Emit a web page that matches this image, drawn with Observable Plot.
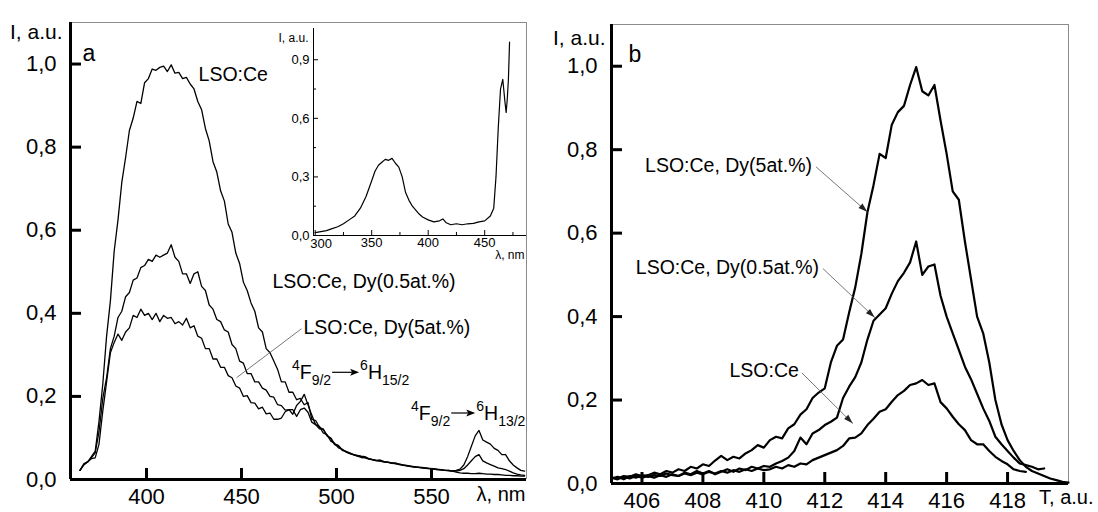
<!DOCTYPE html>
<html><head><meta charset="utf-8">
<script src="https://cdn.jsdelivr.net/npm/d3@7"></script>
<script src="https://cdn.jsdelivr.net/npm/@observablehq/plot@0.6"></script>
<style>
html,body{margin:0;padding:0;background:#fff;}
#wrap{position:relative;width:1098px;height:512px;overflow:hidden;}
#wrap svg{position:absolute;overflow:visible;}
</style></head><body><div id="wrap"></div>
<script>
// ---------- Panel a: luminescence spectra ----------
const wlA = [365,367,369,371,373,375,377,379,381,383,
385,387,389,391,393,395,397,399,401,403,
405,407,409,411,413,415,417,419,421,423,
425,427,429,431,433,435,437,439,441,443,
445,447,449,451,453,455,457,459,461,463,
465,467,469,471,473,475,477,479,481,483,
485,487,489,491,493,495,497,499,501,503,
505,507,509,511,513,515,517,519,521,523,
525,527,529,531,533,535,537,539,541,543,
545,547,549,551,553,555,557,559,561,563,
565,567,569,571,573,575,577,579,581,583,
585,587,589,591,593,595,597,599];
const ceA = [.022,.038,.042,.055,.068,.14,.23,.345,.43,.55,
.625,.715,.775,.84,.87,.91,.905,.955,.965,.988,
.985,.992,.995,.982,.998,.978,.98,.965,.968,.952,
.94,.91,.89,.845,.815,.765,.74,.695,.67,.615,
.595,.545,.52,.475,.455,.425,.405,.365,.355,.315,
.305,.285,.265,.235,.235,.21,.21,.192,.195,.18,
.185,.145,.142,.126,.12,.106,.1,.086,.082,.072,
.068,.064,.06,.058,.056,.055,.05,.048,.046,.047,
.043,.042,.04,.04,.037,.035,.034,.032,.031,.03,
.029,.028,.027,.026,.025,.024,.022,.022,.02,.018,
.016,.015,.015,.014,.014,.015,.014,.013,.013,.012,
.012,.011,.01,.01,.009,.009,.008,.008];
const dy05A = [.022,.036,.043,.052,.064,.115,.195,.245,.315,.345,
.39,.405,.44,.45,.48,.485,.51,.515,.53,.525,
.54,.535,.54,.545,.565,.535,.525,.495,.495,.472,
.495,.50,.465,.455,.42,.41,.385,.38,.36,.355,
.325,.315,.285,.28,.255,.255,.235,.235,.22,.215,
.2,.198,.18,.178,.167,.168,.157,.178,.188,.205,
.18,.155,.132,.128,.112,.108,.092,.087,.076,.073,
.066,.062,.059,.056,.053,.052,.049,.047,.045,.044,
.042,.041,.039,.038,.036,.034,.033,.031,.03,.029,
.028,.027,.026,.025,.024,.023,.022,.021,.02,.02,
.022,.026,.035,.045,.055,.06,.045,.04,.036,.032,
.028,.026,.024,.02,.016,.013,.011,.01];
const dy5A = [.022,.035,.042,.05,.052,.085,.165,.235,.305,.33,
.35,.335,.355,.365,.395,.39,.41,.395,.40,.385,
.40,.38,.395,.388,.39,.375,.38,.372,.388,.365,
.37,.345,.34,.315,.315,.29,.29,.27,.27,.25,
.245,.225,.22,.2,.202,.185,.184,.17,.174,.158,
.16,.145,.145,.148,.163,.168,.168,.152,.168,.172,
.162,.138,.132,.122,.122,.105,.098,.084,.08,.07,
.067,.063,.06,.057,.055,.053,.05,.048,.046,.045,
.043,.042,.04,.038,.037,.035,.033,.032,.03,.029,
.028,.027,.026,.025,.024,.023,.022,.022,.021,.022,
.025,.035,.055,.08,.105,.118,.095,.09,.085,.075,
.07,.06,.06,.045,.035,.028,.022,.02];
const xTicksA = [400,450,500,550];
const yTicks = [0,0.2,0.4,0.6,0.8,1.0];

// ---------- Inset: excitation spectrum ----------
const insX = [300,305,310,315,320,325,330,335,340,345,350,353,356,359,362,365,368,371,374,377,380,383,386,389,392,395,400,405,410,413,416,420,425,430,435,440,445,450,455,458,460,462,464,466,468,469,470,471,472];
const insY = [.015,.02,.025,.035,.045,.06,.08,.1,.14,.2,.28,.33,.36,.375,.39,.385,.395,.37,.35,.30,.22,.18,.15,.13,.11,.095,.08,.07,.075,.085,.065,.055,.06,.055,.06,.062,.07,.075,.1,.14,.3,.55,.75,.8,.68,.63,.7,.8,.99];
const insXTicks = [350,400,450];
const insXFirst = [300];
const insXMinor = [325,375,425,475];
const insYTicks = [0,0.3,0.6,0.9];
const insYMinor = [0.15,0.45,0.75];

// ---------- Panel b ----------
const tB = [405.0,405.2,405.4,405.6,405.8,406.0,406.2,406.4,406.6,406.8,
407.0,407.2,407.4,407.6,407.8,408.0,408.2,408.4,408.6,408.8,
409.0,409.2,409.4,409.6,409.8,410.0,410.2,410.4,410.6,410.8,
411.0,411.2,411.4,411.6,411.8,412.0,412.2,412.4,412.6,412.8,
413.0,413.2,413.4,413.6,413.8,414.0,414.2,414.4,414.6,414.8,
415.0,415.2,415.4,415.6,415.8,416.0,416.2,416.4,416.6,416.8,
417.0,417.2,417.4,417.6,417.8,418.0,418.2,418.4,418.6,418.8,
419.0,419.2,419.4,419.6,419.8,420.0];
const dy5B = [.014,.012,.018,.016,.022,.018,.02,.026,.022,.03,
.026,.034,.03,.04,.036,.046,.042,.055,.066,.056,
.064,.06,.072,.08,.092,.086,.104,.112,.108,.132,
.142,.165,.178,.205,.218,.228,.29,.33,.345,.41,
.47,.55,.65,.715,.79,.78,.86,.89,.905,.955,
.998,.94,.93,.955,.87,.79,.70,.68,.58,.49,
.40,.36,.29,.20,.142,.104,.078,.056,.04,.03,
.024,.018,.012,.008,.004,.002];
const dy05B = [.012,.016,.01,.018,.014,.02,.016,.02,.018,.024,
.02,.018,.026,.022,.03,.024,.03,.022,.028,.034,
.028,.036,.032,.04,.036,.042,.04,.048,.054,.062,
.078,.11,.094,.12,.128,.14,.148,.158,.205,.232,
.255,.29,.345,.39,.405,.42,.455,.485,.505,.53,
.58,.50,.52,.525,.45,.40,.36,.32,.28,.25,
.215,.18,.15,.112,.094,.078,.062,.048,.044,.04,
.034,.036,null,null,null,null];
const ceB = [.014,.01,.016,.012,.018,.014,.018,.014,.02,.016,
.022,.018,.024,.02,.026,.022,.028,.024,.03,.026,
.032,.028,.034,.03,.036,.032,.034,.04,.036,.044,
.04,.048,.046,.056,.062,.068,.074,.08,.09,.108,
.11,.12,.14,.155,.172,.178,.196,.212,.222,.236,
.24,.248,.236,.24,.195,.18,.16,.142,.128,.104,
.094,.094,.078,.064,.054,.046,.034,.03,.028,null,
null,null,null,null,null,null];
const xTicksB = [406,408,410,412,414,416,418];

// ---------- Annotations (data units) ----------
const labelsA = [
  {text: "LSO:Ce", x: 427.4, y: 0.975},
  {text: "LSO:Ce, Dy(0.5at.%)", x: 466.3, y: 0.475},
  {text: "LSO:Ce, Dy(5at.%)", x: 482.6, y: 0.365}
];
const leaderA = [{x1: 481.6, y1: 0.363, x2: 447.4, y2: 0.245}];
const transitions = [
  {x: 476.8, y: 0.240, a: ["4","F","9/2"], b: ["6","H","15/2"], len: 27},
  {x: 539.5, y: 0.142, a: ["4","F","9/2"], b: ["6","H","13/2"], len: 24}
];
const labelsB = [
  {text: "LSO:Ce, Dy(5at.%)", x: 411.58, y: 0.762},
  {text: "LSO:Ce, Dy(0.5at.%)", x: 411.81, y: 0.517},
  {text: "LSO:Ce", x: 411.15, y: 0.27}
];
const arrowsB = [
  {x1: 411.71, y1: 0.759, x2: 413.41, y2: 0.65},
  {x1: 411.94, y1: 0.515, x2: 413.65, y2: 0.397},
  {x1: 411.25, y1: 0.265, x2: 412.93, y2: 0.143}
];

const FONT = "'Liberation Sans', Arial, Helvetica, sans-serif";
const fmt = d => d.toFixed(1).replace(".", ",");
const wrap = document.getElementById("wrap");
const baseStyle = {fontFamily: FONT, color: "#000", background: "transparent", overflow: "visible"};

function axisMarks(xTicks, xDomain, lw, fs) {
  return [
    Plot.ruleX([xDomain[0]], {stroke: "#000", strokeWidth: lw}),
    Plot.ruleY([0], {stroke: "#000", strokeWidth: lw}),
    Plot.axisY(yTicks, {anchor: "left", tickSize: 11, dx: 11, strokeWidth: lw, tickFormat: () => "", label: null}),
    Plot.axisY(yTicks, {anchor: "left", tickSize: 0, tickPadding: 14, tickFormat: fmt, fontSize: fs, label: null}),
    Plot.axisX(xTicks, {anchor: "bottom", tickSize: 11, dy: -11, strokeWidth: lw, tickFormat: () => "", label: null}),
    Plot.axisX(xTicks, {anchor: "bottom", tickSize: 0, tickPadding: 9, tickFormat: d => String(d), fontSize: fs, label: null})
  ];
}

// Panel a
const pa = Plot.plot({
  width: 540, height: 512,
  marginLeft: 70, marginRight: 14, marginTop: 22, marginBottom: 33,
  x: {domain: [360, 600]},
  y: {domain: [0, 1.1]},
  style: baseStyle,
  marks: [
    Plot.ruleY([1.1], {stroke: "#8c8c8c", strokeWidth: 1}),
    Plot.ruleX([600], {stroke: "#8c8c8c", strokeWidth: 1}),
    Plot.lineY(ceA, {x: wlA, stroke: "#000", strokeWidth: 1.3}),
    Plot.lineY(dy05A, {x: wlA, stroke: "#000", strokeWidth: 1.3}),
    Plot.lineY(dy5A, {x: wlA, stroke: "#000", strokeWidth: 1.3}),
    Plot.link(leaderA, {x1: "x1", y1: "y1", x2: "x2", y2: "y2", stroke: "#555", strokeWidth: 0.8}),
    Plot.text(labelsA, {x: "x", y: "y", text: "text", textAnchor: "start", fontSize: 19.5}),
    ...axisMarks(xTicksA, [360, 600], 3, 22),
    Plot.text(["I, a.u."], {frameAnchor: "top-left", dx: -8, dy: 2, textAnchor: "end", fontSize: 21}),
    Plot.text(["a"], {frameAnchor: "top-left", dx: 12, dy: 22, textAnchor: "start", fontSize: 23}),
    Plot.text(["λ, nm"], {frameAnchor: "bottom-right", dx: -1, dy: 21, textAnchor: "end", fontSize: 20})
  ]
});
pa.style.left = "0px"; pa.style.top = "0px";
wrap.append(pa);

// Inset
const pi = Plot.plot({
  width: 272, height: 263,
  marginLeft: 55, marginRight: 4, marginTop: 16, marginBottom: 40,
  x: {domain: [298.5, 487]},
  y: {domain: [0, 1.06]},
  style: baseStyle,
  marks: [
    Plot.lineY(insY, {x: insX, stroke: "#000", strokeWidth: 1.2}),
    Plot.ruleX([298.5], {stroke: "#000", strokeWidth: 1}),
    Plot.ruleY([0], {stroke: "#000", strokeWidth: 1}),
    Plot.axisY(insYTicks, {anchor: "left", tickSize: 5, dx: 5, tickFormat: () => "", label: null}),
    Plot.axisY(insYMinor, {anchor: "left", tickSize: 3, dx: 3, tickFormat: () => "", label: null}),
    Plot.axisY(insYTicks, {anchor: "left", tickSize: 0, tickPadding: 4, tickFormat: fmt, fontSize: 13, label: null}),
    Plot.axisX(insXFirst.concat(insXTicks), {anchor: "bottom", tickSize: 5, dy: -5, tickFormat: () => "", label: null}),
    Plot.axisX(insXMinor, {anchor: "bottom", tickSize: 3, dy: -3, tickFormat: () => "", label: null}),
    Plot.axisX(insXTicks, {anchor: "bottom", tickSize: 0, tickPadding: 2, fontSize: 13, label: null}),
    Plot.axisX(insXFirst, {anchor: "bottom", tickSize: 0, tickPadding: 3, dx: 6, fontSize: 13, label: null}),
    Plot.text(["I, a.u."], {frameAnchor: "top-left", dx: -5, dy: 5, textAnchor: "end", fontSize: 12}),
    Plot.text(["λ, nm"], {frameAnchor: "bottom-right", dx: -2, dy: 23, textAnchor: "end", fontSize: 12})
  ]
});
pi.style.left = "258px"; pi.style.top = "12px";
wrap.append(pi);

// Panel b
const pb = Plot.plot({
  width: 558, height: 512,
  marginLeft: 71, marginRight: 30, marginTop: 24, marginBottom: 29,
  x: {domain: [405, 420]},
  y: {domain: [0, 1.1]},
  style: baseStyle,
  marks: [
    Plot.ruleY([1.1], {stroke: "#8c8c8c", strokeWidth: 1}),
    Plot.ruleX([420], {stroke: "#8c8c8c", strokeWidth: 1}),
    Plot.lineY(dy5B, {x: tB, stroke: "#000", strokeWidth: 2.2}),
    Plot.lineY(dy05B, {x: tB, stroke: "#000", strokeWidth: 2.2}),
    Plot.lineY(ceB, {x: tB, stroke: "#000", strokeWidth: 2.2}),
    Plot.link(arrowsB, {x1: "x1", y1: "y1", x2: "x2", y2: "y2", stroke: "#555", strokeWidth: 0.8}),
    Plot.text(labelsB, {x: "x", y: "y", text: "text", textAnchor: "end", fontSize: 19.5}),
    ...axisMarks(xTicksB, [405, 420], 3, 22),
    Plot.text(["I, a.u."], {frameAnchor: "top-left", dx: -6, dy: 6, textAnchor: "end", fontSize: 21}),
    Plot.text(["b"], {frameAnchor: "top-left", dx: 17, dy: 21, textAnchor: "start", fontSize: 23}),
    Plot.text(["T, a.u."], {frameAnchor: "bottom-right", dx: 25, dy: 20, textAnchor: "end", fontSize: 20})
  ]
});
pb.style.left = "540px"; pb.style.top = "0px";
wrap.append(pb);

// Filled arrowheads at the arrow tips (through panel b's scales)
{
  const bx = pb.scale("x"), by = pb.scale("y");
  const g = d3.select(pb).append("g").attr("fill", "#222");
  for (const a of arrowsB) {
    const x1 = bx.apply(a.x1), y1 = by.apply(a.y1), x2 = bx.apply(a.x2), y2 = by.apply(a.y2);
    const ang = Math.atan2(y2 - y1, x2 - x1) * 180 / Math.PI;
    g.append("path").attr("d", "M0,0 L-9,-3 L-9,3 Z").attr("transform", `translate(${x2},${y2}) rotate(${ang})`);
  }
}

// Term-symbol transition labels (super/subscripts) placed through panel a's scales
const sx = pa.scale("x"), sy = pa.scale("y");
for (const t of transitions) {
  const x0 = sx.apply(t.x), y0 = sy.apply(t.y);
  const g = d3.select(pa).append("g").attr("font-family", FONT).attr("fill", "#000").attr("text-anchor", "start");
  const part = (x, p) => {
    const el = g.append("text").attr("x", x).attr("y", y0).attr("font-size", 19.5).attr("text-anchor", "start");
    el.append("tspan").attr("font-size", 14).attr("dy", -9).text(p[0]);
    el.append("tspan").attr("dy", 9).text(p[1]);
    el.append("tspan").attr("font-size", 14).attr("dy", 6).text(p[2]);
    return el.node().getComputedTextLength();
  };
  const w1 = part(x0, t.a);
  const ax0 = x0 + w1 + 1, ax1 = ax0 + t.len, ay = y0 - 7;
  g.append("line").attr("x1", ax0).attr("x2", ax1 - 6).attr("y1", ay).attr("y2", ay).attr("stroke", "#000").attr("stroke-width", 1.2);
  g.append("path").attr("d", `M${ax1},${ay} l-9,-3.5 l2,3.5 l-2,3.5 z`).attr("fill", "#000");
  part(ax1 + 1, t.b);
}
</script></body></html>
